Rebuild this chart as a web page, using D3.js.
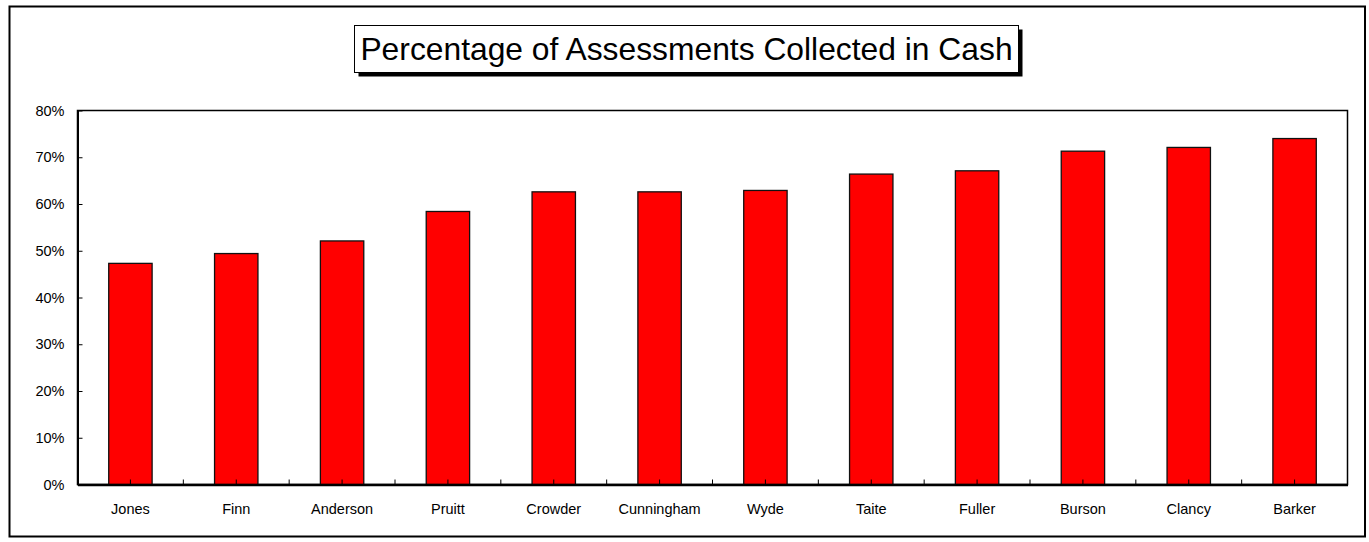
<!DOCTYPE html>
<html>
<head>
<meta charset="utf-8">
<script src="https://cdn.jsdelivr.net/npm/d3@7"></script>
<style>
  html, body { margin: 0; padding: 0; background: #fff; }
  svg { display: block; font-family: "Liberation Sans", Arial, sans-serif; }
</style>
</head>
<body>
<svg id="chart" width="1369" height="542"></svg>
<script>
const categories = ["Jones", "Finn", "Anderson", "Pruitt", "Crowder", "Cunningham", "Wyde", "Taite", "Fuller", "Burson", "Clancy", "Barker"];
const values = [0.473, 0.494, 0.521, 0.584, 0.626, 0.626, 0.629, 0.664, 0.671, 0.713, 0.721, 0.740];
const yTicks = [0, 0.1, 0.2, 0.3, 0.4, 0.5, 0.6, 0.7, 0.8];
const title = "Percentage of Assessments Collected in Cash";

const svg = d3.select("#chart");

// outer border
svg.append("rect").attr("x", 9.5).attr("y", 6.5).attr("width", 1355.5).attr("height", 530)
  .attr("fill", "#fff").attr("stroke", "#000").attr("stroke-width", 2);

const plot = { left: 77.5, top: 110.5, right: 1347.5, bottom: 484.5 };

const x = d3.scaleBand().domain(categories).range([plot.left, plot.right]).paddingInner(0).paddingOuter(0);
const y = d3.scaleLinear().domain([0, 0.8]).range([plot.bottom, plot.top]);

// plot area frame
svg.append("rect").attr("x", plot.left).attr("y", plot.top)
  .attr("width", plot.right - plot.left).attr("height", plot.bottom - plot.top)
  .attr("fill", "#fff").attr("stroke", "#000").attr("stroke-width", 1.5);

// bars
const bw = x.bandwidth() * 0.41;
svg.append("g").selectAll("rect").data(values).join("rect")
  .attr("x", (d, i) => x(categories[i]) + (x.bandwidth() - bw) / 2)
  .attr("y", d => y(d))
  .attr("width", bw)
  .attr("height", d => y(0) - y(d))
  .attr("fill", "#ff0000")
  .attr("stroke", "#111")
  .attr("stroke-width", 1.3);

// y axis
const yAxis = d3.axisLeft(y).tickValues(yTicks).tickFormat(d3.format(".0%"))
  .tickSizeInner(-5).tickSizeOuter(0).tickPadding(13);
const gy = svg.append("g").attr("transform", `translate(${plot.left},0)`).call(yAxis);
gy.select(".domain").attr("stroke", "#000").attr("stroke-width", 2);
gy.selectAll(".tick line").attr("stroke", "#000").attr("stroke-width", 1);
gy.selectAll(".tick text").attr("font-size", 14.5).attr("fill", "#000")
  .attr("font-family", "Liberation Sans, Arial, sans-serif");

// x axis
const xAxis = d3.axisBottom(x).tickSize(0).tickPadding(19);
const gx = svg.append("g").attr("transform", `translate(0,${plot.bottom})`).call(xAxis);
gx.select(".domain").attr("stroke", "#000").attr("stroke-width", 2.5);
gx.selectAll(".tick text").attr("font-size", 14.5).attr("fill", "#000")
  .attr("font-family", "Liberation Sans, Arial, sans-serif");

// inward x ticks at category centers and boundaries
const tickXs = [];
categories.forEach(c => {
  tickXs.push(x(c) + x.bandwidth() / 2);
  tickXs.push(x(c));
});
svg.append("g").selectAll("line").data(tickXs.filter(t => t > plot.left + 1)).join("line")
  .attr("x1", d => d).attr("x2", d => d)
  .attr("y1", plot.bottom).attr("y2", plot.bottom - 5)
  .attr("stroke", "#000").attr("stroke-width", 1);

// title box with shadow
const tb = { x: 354.5, y: 25.5, w: 664, h: 47 };
svg.append("rect").attr("x", tb.x + 4).attr("y", tb.y + 4).attr("width", tb.w).attr("height", tb.h)
  .attr("fill", "#000");
svg.append("rect").attr("x", tb.x).attr("y", tb.y).attr("width", tb.w).attr("height", tb.h)
  .attr("fill", "#fff").attr("stroke", "#000").attr("stroke-width", 1);
svg.append("text").attr("x", tb.x + tb.w / 2).attr("y", tb.y + tb.h / 2 + 11)
  .attr("text-anchor", "middle").attr("font-size", 31.8).attr("fill", "#000")
  .text(title);
</script>
</body>
</html>
